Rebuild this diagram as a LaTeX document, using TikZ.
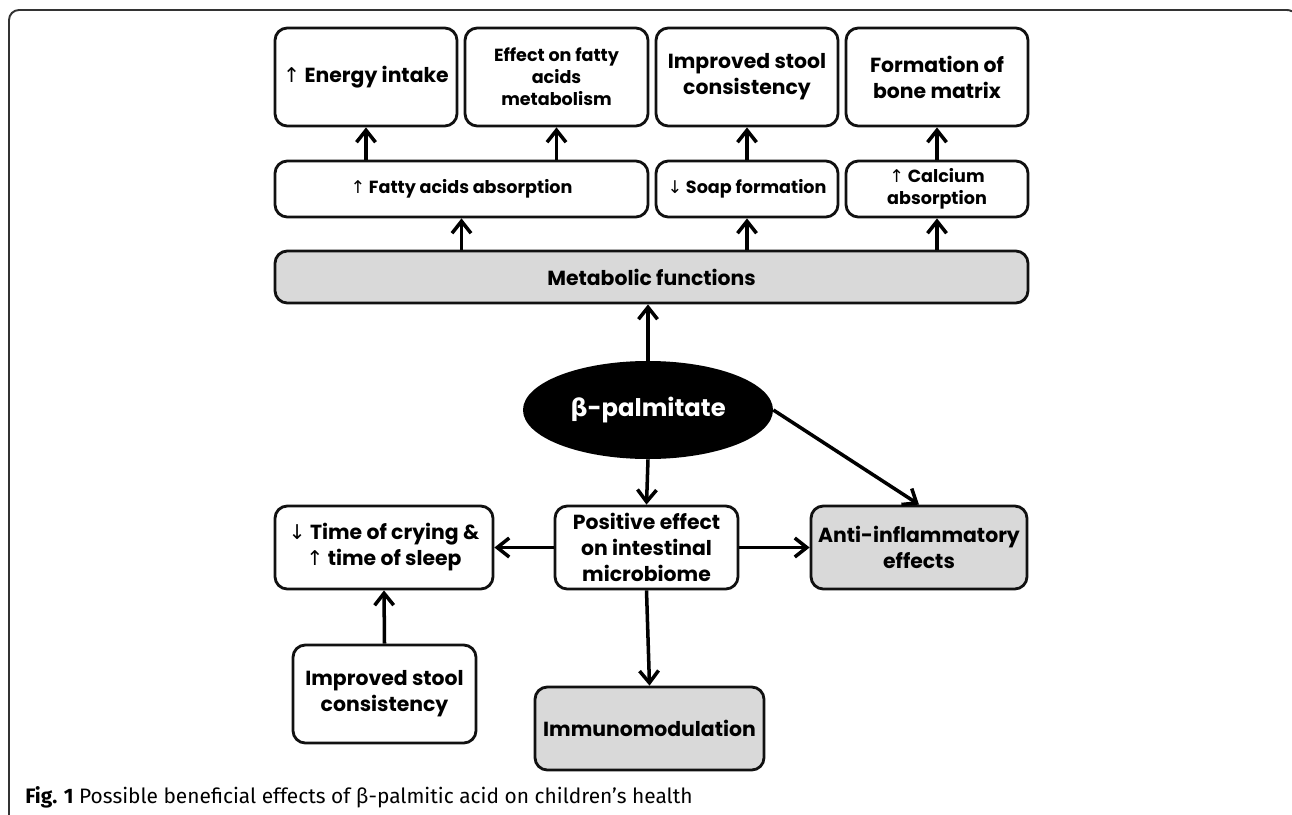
\documentclass[tikz,border=0pt]{standalone}
\usepackage{fontspec}
\setmainfont{Poppins}
\newfontfamily\symfont{DejaVu Sans}
\newfontfamily\capfont{Fira Sans}
\usetikzlibrary{arrows.meta, shapes.geometric}
\definecolor{boxline}{HTML}{111111}
\definecolor{grayfill}{HTML}{D9D9D9}
\definecolor{frameline}{HTML}{333333}
\newcommand{\arrup}{{\symfont\mdseries ↑}}
\newcommand{\arrdn}{{\symfont\mdseries ↓}}
\tikzset{
  box/.style   = {draw=boxline, line width=1.6pt, rounded corners=7pt, fill=white,
                  align=center, inner sep=2pt,
                  font=\fontsize{11.6}{14.8}\selectfont\bfseries},
  sbox/.style  = {box, font=\fontsize{10}{12.6}\selectfont\bfseries},
  gbox/.style  = {box, fill=grayfill},
  sig/.style   = {-{Straight Barb[length=2.4mm, width=3.8mm]}, line width=2pt},
  frame/.style = {draw=frameline, line width=1.1pt},
}

\begin{document}
\begin{tikzpicture}
\useasboundingbox (0,0) rectangle (25.84,-16.28);

% =========================================================================
% frame + caption
% =========================================================================
\draw[frame] (0.18,-16.4) -- (0.18,-0.4) arc[start angle=180, end angle=90, radius=0.2]
  -- (25.74,-0.2) arc[start angle=90, end angle=60, radius=0.2];
\node[anchor=base west, inner sep=0, font=\capfont\fontsize{11.9}{13}\selectfont] (cap) at (0.5,-16.06)
  {\textbf{Fig. 1} Possible beneficial effects of β-palmitic acid on children’s health};

% =========================================================================
% metabolic branch
% =========================================================================
\node[box, minimum width=3.64cm, minimum height=1.96cm] (energy) at (7.32,-1.54) {\arrup\ Energy intake};
\node[sbox, minimum width=3.66cm, minimum height=1.96cm] (effect) at (11.13,-1.54) {Effect on fatty\\acids\\metabolism};
\node[box, minimum width=3.64cm, minimum height=1.96cm] (stool) at (14.94,-1.54) {Improved stool\\consistency};
\node[box, minimum width=3.64cm, minimum height=1.96cm] (bone) at (18.74,-1.54) {Formation of\\bone matrix};

\node[sbox, minimum width=7.46cm, minimum height=1.12cm] (fatty) at (9.23,-3.78) {\arrup\ Fatty acids absorption};
\node[sbox, minimum width=3.64cm, minimum height=1.12cm] (soap) at (14.94,-3.78) {\arrdn\ Soap formation};
\node[sbox, minimum width=3.64cm, minimum height=1.12cm] (calc) at (18.74,-3.78) {\arrup\ Calcium\\absorption};

\node[gbox, minimum width=15.06cm, minimum height=1.04cm] (metab) at (13.03,-5.54) {Metabolic functions};

\draw[sig] (energy |- fatty.north) -- (energy.south);
\draw[sig] (effect |- fatty.north) -- (effect.south);
\draw[sig] (soap.north) -- (stool.south);
\draw[sig] (calc.north) -- (bone.south);
\draw[sig] (fatty |- metab.north) -- (fatty.south);
\draw[sig] (soap |- metab.north) -- (soap.south);
\draw[sig] (calc |- metab.north) -- (calc.south);

% =========================================================================
% beta-palmitate
% =========================================================================
\node[ellipse, fill=black, text=white, minimum width=5cm, minimum height=1.96cm, inner sep=0,
      font=\fontsize{13.8}{16}\selectfont\bfseries] (bpalm) at (12.96,-8.2)
  {{\symfont\bfseries β}-palmitate};

\node[box, minimum width=3.66cm, minimum height=1.66cm] (posit) at (12.93,-10.95) {Positive effect\\on intestinal\\microbiome};
\node[box, minimum width=4.36cm, minimum height=1.66cm] (cry) at (7.68,-10.95) {\arrdn\ Time of crying \&\\\arrup\ time of sleep};
\node[gbox, minimum width=4.32cm, minimum height=1.66cm] (anti) at (18.38,-10.95) {Anti-inflammatory\\effects};
\node[box, minimum width=3.66cm, minimum height=1.96cm] (stool2) at (7.69,-13.88) {Improved stool\\consistency};
\node[gbox, minimum width=4.58cm, minimum height=1.66cm] (immuno) at (12.99,-14.57) {Immunomodulation};

\draw[sig] (bpalm.north) -- (bpalm |- metab.south);
\draw[sig] (bpalm.south) -- (posit.north);
\draw[sig] (bpalm.east) -- (anti.north);
\draw[sig] (posit.west) -- (cry.east);
\draw[sig] (posit.east) -- (anti.west);
\draw[sig] (posit.south) -- (immuno.north);
\draw[sig] (stool2.north) -- (cry.south);

\end{tikzpicture}
\end{document}
